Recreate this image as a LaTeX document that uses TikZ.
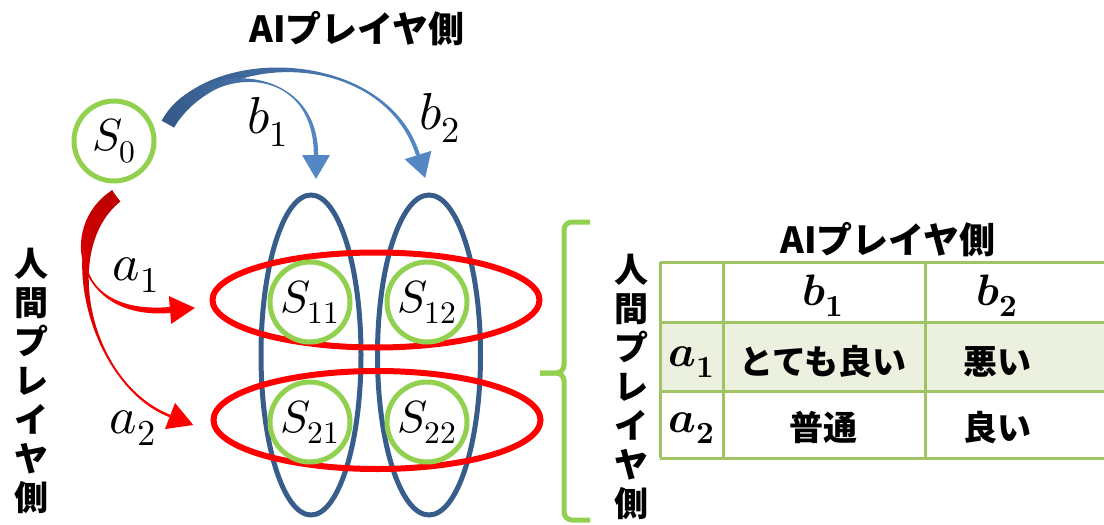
\documentclass[tikz,border=0pt]{standalone}
\usepackage{fontspec}
\usepackage{unicode-math}
\usetikzlibrary{calc,shapes.geometric}
\newfontfamily\jp{Noto Sans CJK JP}
\definecolor{stategreen}{RGB}{146,208,80}
\definecolor{colblue}{RGB}{56,93,138}
\definecolor{rowred}{RGB}{255,0,0}
\definecolor{bluedark}{RGB}{52,88,135}
\definecolor{bluelight}{RGB}{84,135,196}
\definecolor{reddark}{RGB}{185,0,0}
\definecolor{tablegreen}{RGB}{160,195,100}
\definecolor{rowfill}{RGB}{235,241,222}
% tapered curved connector: #1 shade options, #2..#5 Bezier points, #6 start half width, #7 end half width
\newcommand{\taperbody}[7]{%
  \shade[#1] ($#2!#6!90:#3$) .. controls ($#3!#6!-90:#2$) and ($#4!#7!90:#5$) .. ($#5!#7!-90:#4$)
    -- ($#5!#7!90:#4$) .. controls ($#4!#7!-90:#5$) and ($#3!#6!90:#2$) .. ($#2!#6!-90:#3$) -- cycle;}
% arrowhead at #2 pointing away from #1: #3 colour, #4 length, #5 half width
\newcommand{\tiphead}[5]{%
  \fill[#3] ($#2!-#4!#1$) -- ($#2!#5!90:#1$) -- ($#2!#5!-90:#1$) -- cycle;}
\begin{document}
\begin{tikzpicture}[x=1pt,y=-1pt,
  statec/.style={circle,draw=stategreen,line width=5pt,minimum size=80pt,inner sep=0pt,
    font=\fontsize{45}{48}\selectfont},
  colell/.style={ellipse,draw=colblue,line width=5pt,inner sep=0pt},
  rowell/.style={ellipse,draw=rowred,line width=6pt,inner sep=0pt},
  jptitle/.style={font=\jp\bfseries\fontsize{36}{40}\selectfont,inner sep=0pt},
  vtext/.style={font=\jp\bfseries\fontsize{34}{39}\selectfont,align=center,inner sep=0pt},
  actlabel/.style={font=\fontsize{52}{56}\selectfont,inner sep=0pt},
  cellj/.style={font=\jp\bfseries\fontsize{34}{37}\selectfont,inner sep=0pt},
  cellm/.style={font=\fontsize{44}{48}\selectfont,inner sep=0pt},
  gridline/.style={draw=tablegreen,line width=3pt},
  bracestyle/.style={draw=stategreen,line width=5pt,rounded corners=8pt}]
\useasboundingbox (0,0) rectangle (1104,525);
\clip (0,0) rectangle (1104,525);

% column (AI) ellipses and row (human) ellipses
\node[colell,minimum width=100pt,minimum height=320pt] (col1) at (311,355) {};
\node[colell,minimum width=103pt,minimum height=320pt] (col2) at (429,355) {};
\node[rowell,minimum width=327pt,minimum height=95pt] (row1) at (376,300) {};
\node[rowell,minimum width=327pt,minimum height=98pt] (row2) at (377,420) {};

% states
\node[statec] (s0) at (114,141) {$S_0$};
\node[statec] (s11) at (310,302) {$S_{11}$};
\node[statec] (s12) at (427,302) {$S_{12}$};
\node[statec] (s21) at (310,422) {$S_{21}$};
\node[statec] (s22) at (427,422) {$S_{22}$};

% blue arrows (AI side)
\coordinate (bst) at (168,124);
\coordinate (b1c1) at (200,62);
\coordinate (b1c2) at (316,60);
\coordinate (b1end) at (316,155);
\coordinate (b2c1) at (215,45);
\coordinate (b2c2) at (385,50);
\coordinate (b2end) at (418,155);
\taperbody{left color=bluedark,right color=bluelight}{(bst)}{(b2c1)}{(b2c2)}{(b2end)}{7pt}{2pt}
\taperbody{left color=bluedark,right color=bluelight}{(bst)}{(b1c1)}{(b1c2)}{(b1end)}{7pt}{2.2pt}
\tiphead{(b1c2)}{(b1end)}{bluelight}{24pt}{14pt}
\tiphead{(b2c2)}{(b2end)}{bluelight}{24pt}{14pt}

% red arrows (human side)
\coordinate (ast) at (116,196);
\coordinate (a1c1) at (60,232);
\coordinate (a1c2) at (75,318);
\coordinate (a1end) at (170,310);
\coordinate (a2c1) at (56,244);
\coordinate (a2c2) at (90,385);
\coordinate (a2end) at (170,416);
\taperbody{top color=reddark,bottom color=rowred}{(ast)}{(a2c1)}{(a2c2)}{(a2end)}{7pt}{1.3pt}
\taperbody{top color=reddark,bottom color=rowred}{(ast)}{(a1c1)}{(a1c2)}{(a1end)}{7pt}{3pt}
\tiphead{(a1c2)}{(a1end)}{rowred}{25pt}{14pt}
\tiphead{(a2c2)}{(a2end)}{rowred}{25pt}{14pt}

% action labels
\node[actlabel] (lb1) at (268,122) {$b_1$};
\node[actlabel] (lb2) at (440,118) {$b_2$};
\node[actlabel] (la1) at (136,275) {$a_1$};
\node[actlabel] (la2) at (133,428) {$a_2$};

% side titles
\node[jptitle] (aititle) at (357,29) {AIプレイヤ側};
\node[vtext] (humanL) at (31,381) {人\\間\\プ\\レ\\イ\\ヤ\\側};
\node[vtext] (humanR) at (631,387) {人\\間\\プ\\レ\\イ\\ヤ\\側};

% brace
\coordinate (brtip) at (540,373);
\draw[bracestyle] (590,222) -- (564,222) -- (564,373) -- (brtip);
\draw[bracestyle] (590,520) -- (564,520) -- (564,373) -- (brtip);

% payoff table
\fill[rowfill] (660,322) rectangle (1110,391);
\foreach \yy in {262,322,391,458} \draw[gridline] (660,\yy) -- (1110,\yy);
\foreach \xx in {660,723,925} \draw[gridline] (\xx,262) -- (\xx,458);
\node[jptitle] (taititle) at (888,240) {AIプレイヤ側};
\node[cellm] (tb1) at (823,296) {$\symbfit{b}_{\symbf{1}}$};
\node[cellm] (tb2) at (997,296) {$\symbfit{b}_{\symbf{2}}$};
\node[cellm] (ta1) at (692,362) {$\symbfit{a}_{\symbf{1}}$};
\node[cellm] (ta2) at (692,428) {$\symbfit{a}_{\symbf{2}}$};
\node[cellj] (c11) at (823,362) {とても良い};
\node[cellj] (c12) at (997,362) {悪い};
\node[cellj] (c21) at (823,428) {普通};
\node[cellj] (c22) at (997,428) {良い};
\end{tikzpicture}
\end{document}
